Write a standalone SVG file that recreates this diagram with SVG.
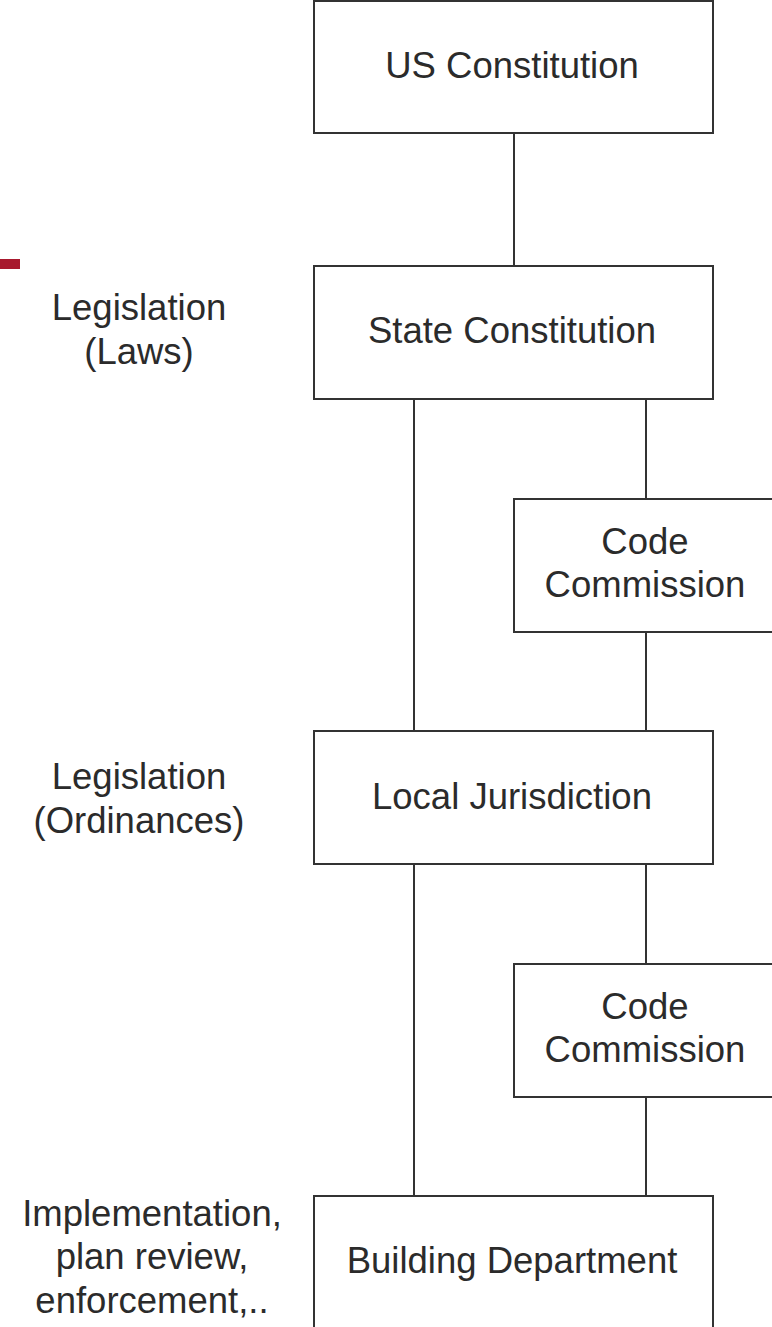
<svg xmlns="http://www.w3.org/2000/svg" width="772" height="1327" viewBox="0 0 772 1327">
<style>
.box{fill:#fff;stroke:#333;stroke-width:2}
.t{font-family:"Liberation Sans",Arial,sans-serif;font-size:36.5px;fill:#2b2b2b;text-anchor:middle}
.c{stroke:#333;stroke-width:2;fill:none}
</style>
<rect width="772" height="1327" fill="#fff"/>
<rect x="0" y="259" width="20" height="10" fill="#a8192e"/>
<g id="connectors">
<line class="c" x1="514" y1="133" x2="514" y2="266"/>
<line class="c" x1="414" y1="399" x2="414" y2="731"/>
<line class="c" x1="646" y1="399" x2="646" y2="499"/>
<line class="c" x1="646" y1="632" x2="646" y2="731"/>
<line class="c" x1="414" y1="864" x2="414" y2="1196"/>
<line class="c" x1="646" y1="864" x2="646" y2="964"/>
<line class="c" x1="646" y1="1097" x2="646" y2="1196"/>
</g>
<g id="us-constitution"><rect class="box" x="314" y="1" width="399" height="132"/><text class="t" x="512" y="78">US Constitution</text></g>
<g id="state-constitution"><rect class="box" x="314" y="266" width="399" height="133"/><text class="t" x="512" y="343">State Constitution</text></g>
<g id="code-commission-1"><rect class="box" x="514" y="499" width="264" height="133"/><text class="t" x="645" y="554">Code</text><text class="t" x="645" y="597">Commission</text></g>
<g id="local-jurisdiction"><rect class="box" x="314" y="731" width="399" height="133"/><text class="t" x="512" y="809">Local Jurisdiction</text></g>
<g id="code-commission-2"><rect class="box" x="514" y="964" width="264" height="133"/><text class="t" x="645" y="1019">Code</text><text class="t" x="645" y="1062">Commission</text></g>
<g id="building-department"><rect class="box" x="314" y="1196" width="399" height="140"/><text class="t" x="512" y="1273">Building Department</text></g>
<g id="label-laws"><text class="t" x="139" y="320">Legislation</text><text class="t" x="139" y="364">(Laws)</text></g>
<g id="label-ordinances"><text class="t" x="139" y="789">Legislation</text><text class="t" x="139" y="833">(Ordinances)</text></g>
<g id="label-implementation"><text class="t" x="152" y="1226">Implementation,</text><text class="t" x="152" y="1269">plan review,</text><text class="t" x="152" y="1313">enforcement,..</text></g>
</svg>
